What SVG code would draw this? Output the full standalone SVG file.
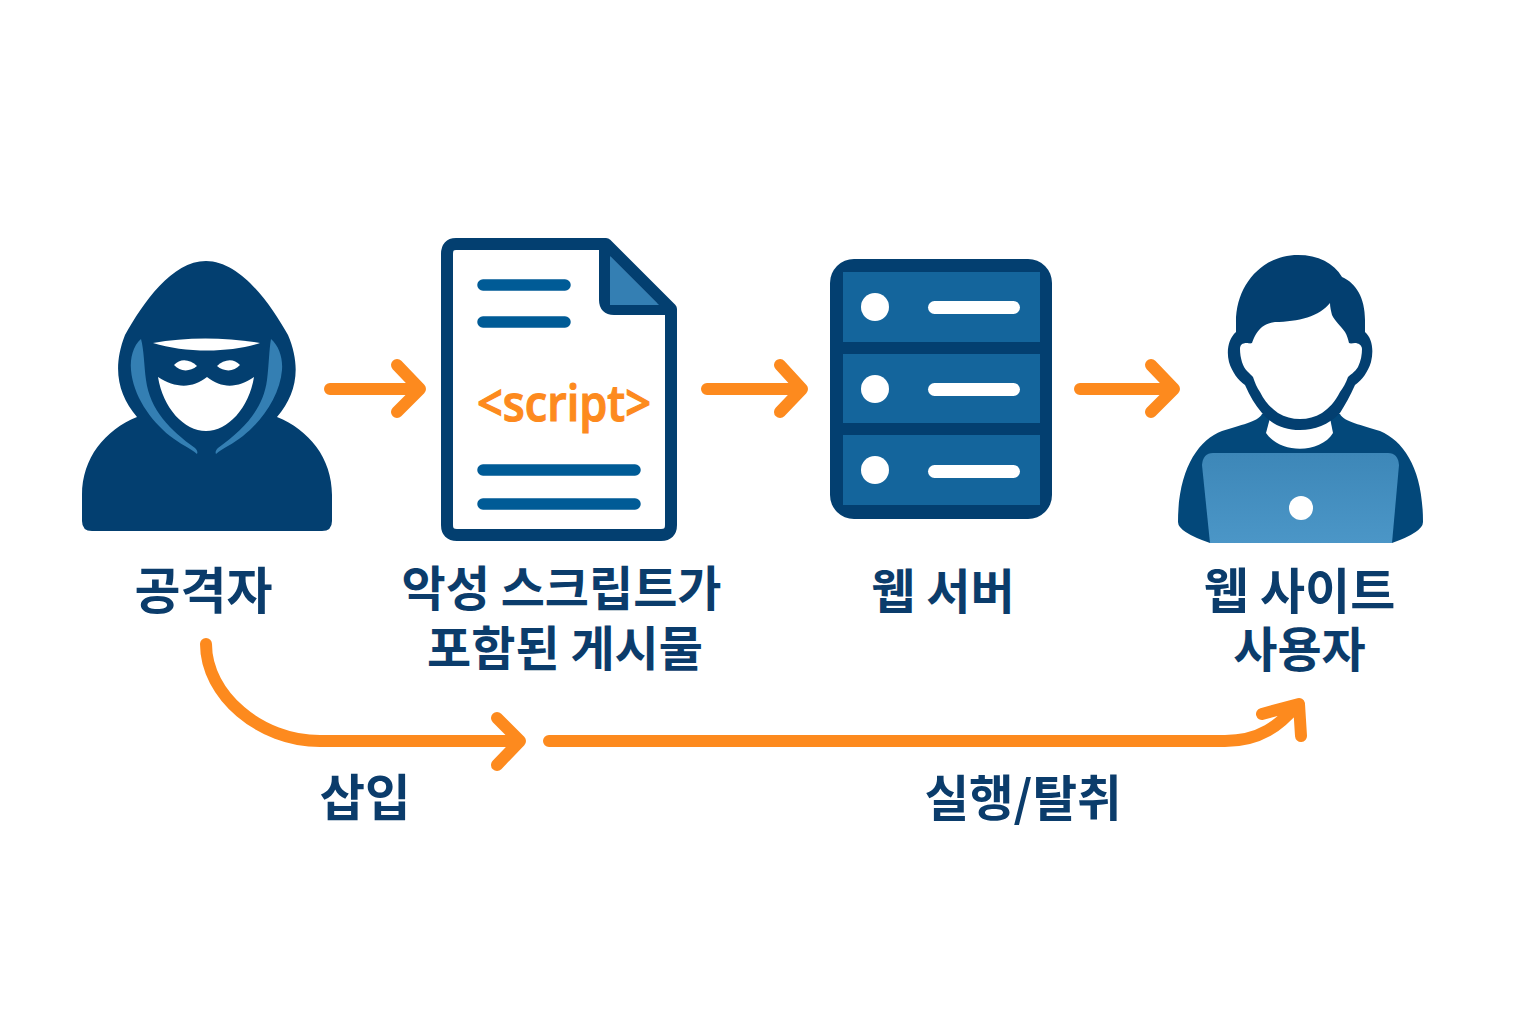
<svg xmlns="http://www.w3.org/2000/svg" width="1536" height="1024" viewBox="0 0 1536 1024">
<defs>
<linearGradient id="lap" x1="0" y1="0" x2="0" y2="1"><stop offset="0" stop-color="#3d87b8"/><stop offset="1" stop-color="#4b96c7"/></linearGradient>
</defs>
<style>
.d{fill:#033f70}
.m{fill:#347fb3}
.w{fill:#fff}
.l{fill:none;stroke:#005b96;stroke-width:11.5;stroke-linecap:round}
.a{fill:none;stroke:#fd8a1e;stroke-width:12;stroke-linecap:round;stroke-linejoin:round}
.t{font-family:"Noto Sans CJK KR","Noto Sans",sans-serif;font-weight:700;font-size:48px;fill:#0b3c6b;text-anchor:middle}
</style>
<rect width="1536" height="1024" fill="#fff"/>
<g id="attacker">
<path class="d" d="M206 261C172 261 143 303 125 335C112 368 118 395 137 417C105 430 82 458 82 495V521Q82 531 92 531H322Q332 531 332 521V495C332 458 309 430 277 417C296 395 302 368 288 335C270 303 240 261 206 261Z"/>
<path class="m" d="M141 339C133 346 130 358 131 370C133 395 150 420 170 436C180 444 190 448 197 454C198 452 197 450 195 448C170 430 150 410 146 380C144 365 144 350 141 339Z"/>
<path class="m" d="M271 339C279 346 283 358 282 370C280 395 263 420 243 436C233 444 223 448 216 454C215 452 216 450 218 448C243 430 263 410 267 380C269 365 269 350 271 339Z"/>
<path class="w" d="M153 343C185 337 225 337 260 343C230 353 185 353 153 343Z"/>
<path class="w" d="M174 365C180 358 190 359 197 366C190 372 180 372 174 365Z"/>
<path class="w" d="M217 366C224 359 234 358 240 365C234 372 224 372 217 366Z"/>
<path class="w" d="M158 377C175 388 192 389 207 377C222 389 238 388 254 377C249 408 228 431 206 431C184 431 163 408 158 377Z"/>
</g>
<g id="document">
<path fill="#fff" stroke="#033f70" stroke-width="12" stroke-linejoin="round" d="M456 244H606L671 309V525Q671 535 661 535H457Q447 535 447 525V254Q447 244 456 244Z"/>
<path fill="none" stroke="#033f70" stroke-width="12" stroke-linejoin="round" d="M605 244V300Q605 309 614 309H671"/>
<path class="m" d="M610 256L659 305H610Z"/>
<path class="l" d="M483 285H565M483 322H565M483 470H635M483 504H635"/>
<text x="564" y="421" font-family="'Open Sans','Noto Sans',sans-serif" font-size="50" font-weight="600" fill="#fd8a1e" stroke="#fd8a1e" stroke-width="1.2" text-anchor="middle" textLength="174" lengthAdjust="spacingAndGlyphs">&lt;script&gt;</text>
</g>
<g id="server">
<rect x="830" y="259" width="222" height="260" rx="24" class="d"/>
<rect x="843" y="272" width="197" height="70" fill="#14659c"/>
<rect x="843" y="354" width="197" height="69" fill="#14659c"/>
<rect x="843" y="435" width="197" height="70" fill="#14659c"/>
<circle cx="875" cy="307" r="14" class="w"/><circle cx="875" cy="389" r="14" class="w"/><circle cx="875" cy="470" r="14" class="w"/>
<rect x="928" y="301" width="92" height="13" rx="6.5" class="w"/><rect x="928" y="383" width="92" height="13" rx="6.5" class="w"/><rect x="928" y="465" width="92" height="13" rx="6.5" class="w"/>
</g>
<g id="user">
<path fill="#03487a" d="M1262 414C1258 422 1240 425 1222 431C1198 440 1178 470 1178 522Q1178 532 1210 543H1392Q1423 532 1423 522C1423 470 1405 442 1380 431C1362 425 1344 422 1340 414Z"/>
<path class="w" d="M1270 418L1266 433C1280 454 1320 454 1333 433L1330 418Z"/>
<path fill="#033f70" d="M1236 332V322C1236 285 1262 255 1298 255C1318 255 1334 263 1342 277C1356 283 1365 298 1365 320V332C1372 338 1374 350 1371 362C1368 372 1362 380 1355 385C1350 396 1345 405 1340 413C1328 425 1315 430 1300 430C1285 430 1272 425 1262 413C1255 405 1250 396 1245 385C1238 380 1232 372 1229 362C1226 350 1229 338 1236 332Z"/>
<path class="w" d="M1330 303C1320 316 1298 322 1275 322C1268 323 1265 325 1262 327C1256 332 1254 338 1252 343C1250 344 1248 343 1247 343C1242 343 1240 345 1240 349C1240 358 1243 367 1247 371C1250 374 1252 376 1253 377C1255 383 1257 388 1260 392C1265 402 1271 408 1278 413C1285 417 1292 419 1300 419C1308 419 1315 417 1322 413C1329 408 1335 402 1340 392C1343 388 1346 383 1348 377C1350 375 1355 372 1358 367C1361 361 1362 354 1362 349C1362 345 1358 343 1355 343C1353 343 1351 344 1349 343C1348 339 1347 335 1345 332C1340 325 1335 321 1332 315C1331 311 1330 307 1330 303Z"/>
<path fill="url(#lap)" d="M1213 453H1388Q1398 453 1399 465L1392 543H1210L1202 465Q1203 453 1213 453Z"/>
<circle cx="1301" cy="508" r="12" class="w"/>
</g>
<g id="connectors">
<path class="a" d="M330 389H418M397 365L420 389L397 412"/>
<path class="a" d="M707 389H800M780 365L802 389L780 412"/>
<path class="a" d="M1080 389H1172M1151 365L1174 389L1151 412"/>
<path class="a" d="M206 644C206 695 260 741 320 741H518M497 718L520 741L497 765"/>
<path class="a" d="M549 741H1225C1260 741 1280 725 1297 705M1262 714L1299 704L1301 736"/>
</g>
<g id="labels">
<text class="t" x="203.500" y="609" style="font-size:50px">공격자</text>
<text class="t"><tspan x="561.500" y="606">악성 스크립트가</tspan><tspan x="565" y="666">포함된 게시물</tspan></text>
<text class="t" x="943" y="609">웹 서버</text>
<text class="t"><tspan x="1299.500" y="609" style="font-size:49px">웹 사이트</tspan><tspan x="1299.500" y="667">사용자</tspan></text>
<text class="t" x="365" y="816" style="font-size:49.500px">삽입</text>
<text class="t" x="1023" y="816" style="font-size:48.500px">실행/탈취</text>
</g>
</svg>
